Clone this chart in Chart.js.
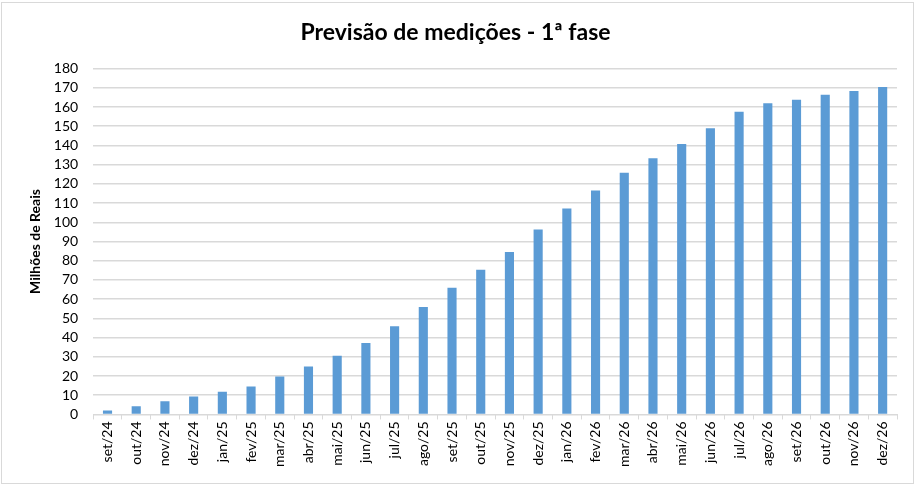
<!DOCTYPE html>
<html lang="pt">
<head>
    <meta charset="UTF-8">
    <title>Previsão de medições - 1ª fase</title>
    <script src="https://cdn.jsdelivr.net/npm/chart.js"></script>
    <style>
        body {
            margin: 0;
            padding: 0;
            background: #fff;
        }

        /* Excel-like chart frame */
        .chart-box {
            position: absolute;
            left: 1px;
            top: 2px;
            width: 911px;
            height: 480px;
            border: 1px solid #d9d9d9;
            background: #fff;
        }
    </style>
</head>
<body>
    <div class="chart-box">
        <canvas id="barChart" width="911" height="480"></canvas>
    </div>

    <script>
        // Chart data (values in millions of reais)
        const months = [
            'set/24', 'out/24', 'nov/24', 'dez/24',
            'jan/25', 'fev/25', 'mar/25', 'abr/25', 'mai/25', 'jun/25',
            'jul/25', 'ago/25', 'set/25', 'out/25', 'nov/25', 'dez/25',
            'jan/26', 'fev/26', 'mar/26', 'abr/26', 'mai/26', 'jun/26',
            'jul/26', 'ago/26', 'set/26', 'out/26', 'nov/26', 'dez/26'
        ];
        const medicoes = [
            2.1, 4.3, 6.9, 9.3,
            11.8, 14.5, 19.7, 24.9, 30.6, 37.2,
            45.9, 55.9, 66.0, 75.3, 84.5, 96.3,
            107.2, 116.6, 125.8, 133.3, 140.8, 149.0,
            157.6, 162.0, 163.8, 166.4, 168.3, 170.4
        ];
        const yMax = 180;
        const yStep = 10;

        const fontFamily = "'Lato', 'Open Sans', sans-serif";
        const gridColor = '#d9d9d9';

        const ctx = document.getElementById('barChart').getContext('2d');

        new Chart(ctx, {
            type: 'bar',
            data: {
                labels: months,
                datasets: [{
                    label: 'Medições',
                    data: medicoes,
                    backgroundColor: '#5b9bd5',
                    borderWidth: 0,
                    barPercentage: 0.6,
                    categoryPercentage: 0.53
                }]
            },
            options: {
                responsive: false,
                animation: false,
                layout: {
                    padding: { left: 12, right: 16, top: 6, bottom: 14 }
                },
                plugins: {
                    legend: { display: false },
                    tooltip: { enabled: false },
                    title: {
                        display: true,
                        text: 'Previsão de medições - 1ª fase',
                        color: '#000',
                        font: { family: fontFamily, size: 23, weight: 'bold' },
                        padding: { top: 10, bottom: 22 }
                    }
                },
                scales: {
                    x: {
                        grid: {
                            display: true,
                            drawOnChartArea: false,
                            drawTicks: true,
                            tickLength: 5,
                            color: gridColor
                        },
                        border: { display: true, color: gridColor },
                        ticks: {
                            color: '#000',
                            minRotation: 90,
                            maxRotation: 90,
                            autoSkip: false,
                            padding: 2,
                            font: { family: fontFamily, size: 14 }
                        }
                    },
                    y: {
                        min: 0,
                        max: yMax,
                        grid: {
                            color: gridColor,
                            lineWidth: 1.5,
                            drawTicks: false
                        },
                        border: { display: false },
                        ticks: {
                            stepSize: yStep,
                            autoSkip: false,
                            color: '#000',
                            padding: 15,
                            font: { family: fontFamily, size: 14 }
                        },
                        title: {
                            display: true,
                            text: 'Milhões de Reais',
                            color: '#000',
                            // shift the axis title right, closer to the tick labels
                            padding: { top: 13, bottom: -5 },
                            font: { family: fontFamily, size: 14, weight: 'bold' }
                        }
                    }
                }
            }
        });
    </script>
</body>
</html>
